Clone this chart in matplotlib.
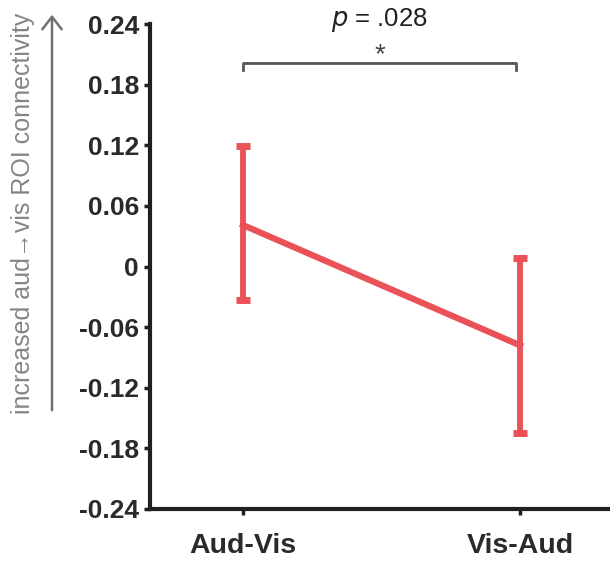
import matplotlib
matplotlib.use("Agg")
import matplotlib.pyplot as plt

categories = ["Aud-Vis", "Vis-Aud"]
means = [0.041, -0.078]
err_upper = [0.119, 0.008]
err_lower = [-0.033, -0.165]
yticks = [-0.24, -0.18, -0.12, -0.06, 0, 0.06, 0.12, 0.18, 0.24]
ytick_labels = ["-0.24", "-0.18", "-0.12", "-0.06", "0", "0.06", "0.12", "0.18", "0.24"]
p_text = ".028"
ylabel = "increased aud\u2192vis ROI connectivity"

red = "#EA5257"
dark = "#231F20"

fig = plt.figure(figsize=(6.10, 5.63), dpi=100)
ax = fig.add_axes([150/610, 1 - 509/563, 1 - 150/610, (509 - 24)/563])

x = list(range(len(categories)))
yerr = [[m - lo for m, lo in zip(means, err_lower)], [hi - m for m, hi in zip(means, err_upper)]]
ax.errorbar(x, means, yerr=yerr, color=red, lw=4.5, elinewidth=4.2, capsize=5, capthick=5, zorder=3)

ax.set_xlim(-0.336, 1.325)
ax.set_ylim(-0.24, 0.24)
ax.set_yticks(yticks)
ax.set_yticklabels(ytick_labels)
ax.set_xticks(x)
ax.set_xticklabels(categories)

for s in ["top", "right"]:
    ax.spines[s].set_visible(False)
for s in ["left", "bottom"]:
    ax.spines[s].set_linewidth(3)
    ax.spines[s].set_color(dark)
    ax.spines[s].set_capstyle("projecting")

ax.tick_params(axis="both", direction="out", length=4, width=2.5, color=dark)
ax.tick_params(axis="y", pad=4)
ax.tick_params(axis="x", pad=13)
for lab in ax.get_yticklabels():
    lab.set_fontfamily("Liberation Sans")
    lab.set_fontweight("bold")
    lab.set_fontsize(19)
    lab.set_color("#2a2a2a")
for lab in ax.get_xticklabels():
    lab.set_fontfamily("Liberation Sans")
    lab.set_fontweight("bold")
    lab.set_fontsize(20.5)
    lab.set_color("#2a2a2a")

# significance bracket
bx0, bx1 = 0.0, 0.987
by, bdrop = 0.2015, 0.007
ax.plot([bx0, bx0, bx1, bx1], [by - bdrop, by, by, by - bdrop], color="#555555", lw=2, clip_on=False)
ax.text((bx0 + bx1) / 2, 0.209, "*", ha="center", va="center", fontsize=20, color="#444444",
        fontfamily="Liberation Sans")
ax.text((bx0 + bx1) / 2, 0.244, r"$\mathit{p}$ = " + p_text, ha="center", va="center", fontsize=18.5,
        color="#222222", fontfamily="Liberation Sans")

# y label with arrow
fig.text(23/610, 1 - 213/563, ylabel, rotation=90, ha="center", va="center", fontsize=18,
         color="#858585", fontfamily="Liberation Sans")
fig.add_artist(matplotlib.patches.FancyArrowPatch((52/610, 1 - 413/563), (52/610, 1 - 12/563),
               transform=fig.transFigure, arrowstyle="->,head_length=9,head_width=7",
               color="#707070", lw=1.8, mutation_scale=1))

fig.savefig("out.png", dpi=100)
